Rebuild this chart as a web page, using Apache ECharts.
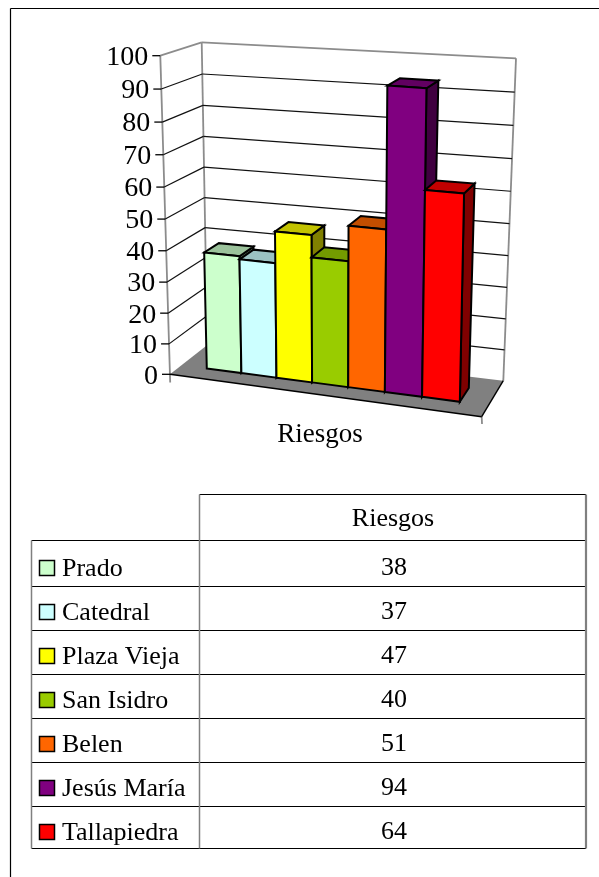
<!DOCTYPE html>
<html>
<head>
<meta charset="utf-8">
<style>html,body{margin:0;padding:0;background:#fff}#c{width:599px;height:877px}</style>
<script src="https://cdn.jsdelivr.net/npm/echarts@6/dist/echarts.min.js"></script>
</head>
<body>
<div id="c"></div>
<script>
const places = ['Prado','Catedral','Plaza Vieja','San Isidro','Belen','Jesús María','Tallapiedra'];
const riesgos = [38,37,47,40,51,94,64];
const colours = ['#CCFFCC','#CCFFFF','#FFFF00','#99CC00','#FF6600','#800080','#FF0000'];
const valueTicks = [0,10,20,30,40,50,60,70,80,90,100];
const seriesName = 'Riesgos';

const FONT = 'Liberation Serif';
// 3D frame corners in the picture: F/B front/back, L/R, B/T bottom/top
const C = {
  FLB:[170,374.3], FRB:[481.7,416.7], FLT:[160.3,55.7], FRT:[488,78],
  BLB:[207.3,345], BRB:[503.3,380.7], BLT:[201.7,42.3], BRT:[516,58.3]
};
const GRID = {left:170, top:56, width:312, height:318};
const U0=.087, U1=.912, W0=.31, W1=.70;
const warp=(t,k)=>(1+k)*t/(1+k*t);
function P(u,v,w){
  const a=warp(u,-.06), b=warp(v,-.05);
  const mix=(p,q,t)=>[p[0]+(q[0]-p[0])*t,p[1]+(q[1]-p[1])*t];
  const front=mix(mix(C.FLB,C.FRB,a),mix(C.FLT,C.FRT,a),b);
  const back=mix(mix(C.BLB,C.BRB,a),mix(C.BLT,C.BRT,a),b);
  return mix(front,back,w);
}
const toV=y=>(GRID.top+GRID.height-y)/GRID.height;
const toU=x=>U0+(x-GRID.left)/GRID.width*(U1-U0);
function shade(hex,k){
  const n=parseInt(hex.slice(1),16);
  const c=s=>Math.round(((n>>s)&255)*k);
  return `rgb(${c(16)},${c(8)},${c(0)})`;
}
const line=(a,b,stroke,w)=>({type:'line',shape:{x1:a[0],y1:a[1],x2:b[0],y2:b[1]},style:{stroke,lineWidth:w}});
const poly=(pts,fill,stroke,w)=>({type:'polygon',shape:{points:pts},style:{fill,stroke:stroke||'none',lineWidth:w||0,lineJoin:'miter'}});
const GREY='#8c8c8c';

function renderFrame(params,api){
  return {type:'group',children:[
    poly([P(0,0,0),P(1,0,0),P(1,0,1),P(0,0,1)],'#808080'),
    line(C.BLB,C.BLT,GREY,1.8), line(C.BRB,C.BRT,GREY,1.8),
    line(C.BLT,C.BRT,GREY,1.8), line(C.FLT,C.BLT,GREY,1.8),
    line(C.FLT,[170.2,382.5],GREY,1.8),
    line(C.FRB,[482,424],GREY,1.8),
    line(C.FLB,C.FRB,'#000',1.4), line(C.FRB,C.BRB,'#000',1.4)
  ]};
}
function renderTick(params,api){
  const t=api.value(1);
  const v=toV(api.coord([0,t])[1]);
  const a=P(0,v,0), b=P(0,v,1), c=P(1,v,1);
  const kids=[line([a[0]-8,a[1]],a,'#000',1.3)];
  if(t>0&&t<100){kids.push(line(a,b,'#111',1.2),line(b,c,'#111',1.2));}
  kids.push({type:'text',style:{text:String(t),x:a[0]-12,y:a[1]+2,align:'right',verticalAlign:'middle',
    fontFamily:FONT,fontSize:28,fill:'#000'}});
  return {type:'group',children:kids};
}
function renderBar(params,api){
  const i=api.value(0), val=api.value(1);
  const p=api.coord([i,val]), base=api.coord([i,0]), bw=api.size([1,0])[0];
  const u0=toU(p[0]-bw/2), u1=toU(p[0]+bw/2), v=toV(p[1]), v0=toV(base[1]);
  const col=colours[i], S=2;
  return {type:'group',children:[
    poly([P(u1,v0,W0),P(u1,v0,W1),P(u1,v,W1),P(u1,v,W0)],shade(col,.5),'#000',S),
    poly([P(u0,v,W0),P(u1,v,W0),P(u1,v,W1),P(u0,v,W1)],shade(col,.76),'#000',S),
    poly([P(u0,v0,W0),P(u1,v0,W0),P(u1,v,W0),P(u0,v,W0)],col,'#000',S)
  ]};
}

// table
const TX={l:31.5,m:199.5,r:586}, TY=[494.5,540.5,586.5,630.5,674.5,718.5,762.5,806.5,848.5];
const g=[];
const gl=(x1,y1,x2,y2,stroke,w)=>g.push({type:'line',silent:true,shape:{x1,y1,x2,y2},style:{stroke,lineWidth:w}});
const gt=(text,x,y,align,size)=>g.push({type:'text',silent:true,style:{text,x,y,align,verticalAlign:'middle',fontFamily:FONT,fontSize:size||26,fill:'#000'}});
gl(10.5,8.5,599,8.5,'#000',1.2); gl(10.5,8.5,10.5,877,'#000',1.2);
gl(TX.m,TY[0],TX.r,TY[0],'#000',1.2);
for(let k=1;k<TY.length;k++) gl(TX.l,TY[k],TX.r,TY[k],'#000',1.2);
gl(TX.l,TY[1],TX.l,TY[8],'#808080',1.5);
gl(TX.m,TY[0],TX.m,TY[8],'#808080',1.5);
gl(TX.r,TY[0],TX.r,TY[8],'#808080',2.2);
gt(seriesName,393,519.5,'center');
gt(seriesName,320,435,'center',27);
places.forEach((n,i)=>{
  const base=TY[i+1]+(i===0?35:33);
  g.push({type:'rect',silent:true,shape:{x:39.5,y:base-15,width:15,height:15},style:{fill:colours[i],stroke:'#000',lineWidth:1.5}});
  gt(n,62,base-6,'left');
  gt(String(riesgos[i]),394,base-7,'center');
});

const chart=echarts.init(document.getElementById('c'),null,{renderer:'canvas'});
chart.setOption({
  animation:false,
  backgroundColor:'#fff',
  grid:{...GRID,show:false},
  xAxis:{type:'category',data:places,show:false},
  yAxis:{type:'value',min:0,max:100,interval:10,show:false},
  graphic:g,
  series:[
    {type:'custom',name:'frame',clip:false,silent:true,renderItem:renderFrame,data:[[0,0]],z:1},
    {type:'custom',name:'ticks',clip:false,silent:true,renderItem:renderTick,data:valueTicks.map(t=>[0,t]),z:2},
    {type:'custom',name:seriesName,clip:false,renderItem:renderBar,data:riesgos.map((r,i)=>[i,r]),z:3}
  ]
});
</script>
</body>
</html>
